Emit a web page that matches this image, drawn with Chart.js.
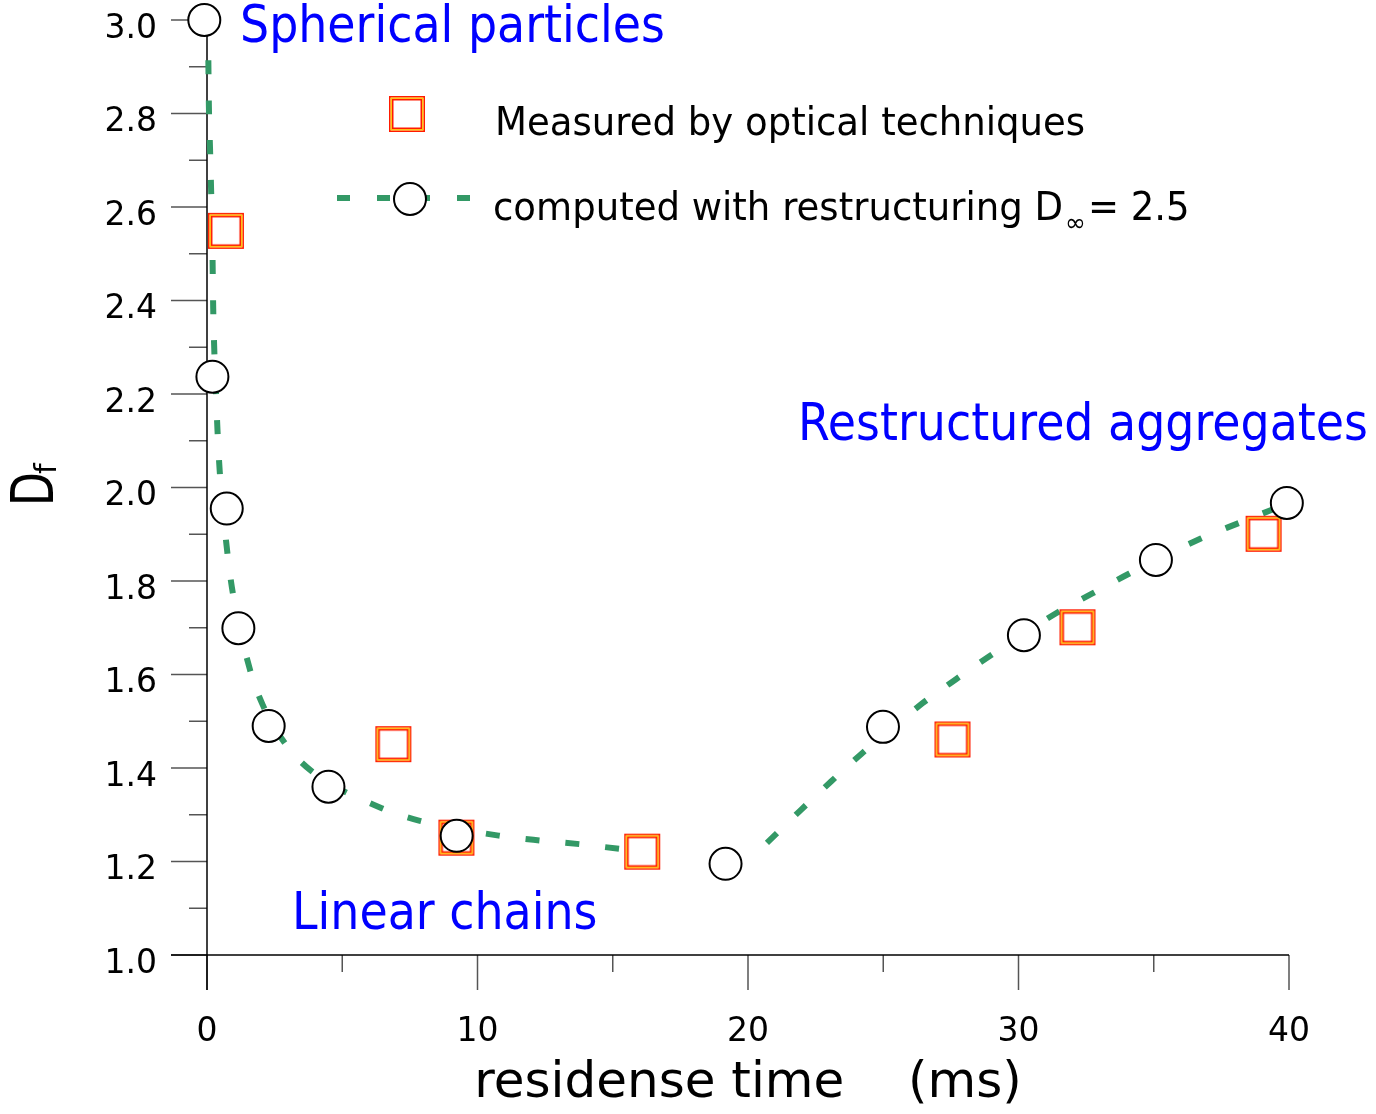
<!DOCTYPE html>
<html>
<head>
<meta charset="utf-8">
<script src="https://cdn.jsdelivr.net/npm/chart.js@4.4.0/dist/chart.umd.min.js"></script>
<style>
  html, body { margin: 0; padding: 0; background: #fff; }
  #wrap { width: 1376px; height: 1114px; }
</style>
</head>
<body>
<div id="wrap"><canvas id="chart" width="1376" height="1114"></canvas></div>
<script>
// measured by optical techniques (squares)
var measuredTime = [0.70, 6.89, 9.22, 16.09, 27.56, 32.18, 39.06]
var measuredDf = [2.549, 1.451, 1.251, 1.221, 1.461, 1.701, 1.901]

// computed with restructuring (circles)
var computedTime = [-0.1, 0.2, 0.73, 1.16, 2.28, 4.49, 9.23, 19.17, 24.99, 30.2, 35.08, 39.92]
var computedDf = [3.0, 2.237, 1.955, 1.699, 1.49, 1.36, 1.255, 1.195, 1.488, 1.684, 1.845, 1.967]

// dashed curve, null = break in the curve
var curveTime = [0.05, 0.07, 0.11, 0.15, 0.2, 0.23, 0.27, 0.33, 0.39, 0.47, 0.75, 0.95, 1.59, 2.06, 2.88, 3.81, 6.46, 7.87, 10.83, 12.31, 13.79, 15.27, 16.75, 17.0,
                 18.9,
                 20.7, 21.95, 23.07, 24.19, 26.44, 27.69, 28.95, 31.39, 32.75, 34.10, 36.74, 38.19, 39.9]
var curveDf = [2.914, 2.815, 2.729, 2.641, 2.51, 2.382, 2.293, 2.204, 2.12, 2.035, 1.862, 1.776, 1.61, 1.535, 1.453, 1.396, 1.314, 1.287, 1.255, 1.245, 1.237, 1.227, 1.218, 1.216,
               null,
               1.24, 1.31, 1.371, 1.43, 1.538, 1.59, 1.64, 1.731, 1.774, 1.816, 1.891, 1.925, 1.965]

var labels = ['Measured by optical techniques', 'computed with restructuring D']

var FONT = '"DejaVu Sans"'
Chart.defaults.font.family = FONT
Chart.defaults.color = '#000'

function pts(xs, ys) {
  return xs.map(function(x, i) { return {x: x, y: ys[i]} })
}

// square marker: red / yellow / red frame
function makeSquare() {
  var c = document.createElement('canvas')
  c.width = 40; c.height = 40
  var g = c.getContext('2d')
  g.fillStyle = '#fff'
  g.fillRect(2, 2, 36, 36)
  g.lineWidth = 1.6; g.strokeStyle = '#ff1a00'
  g.strokeRect(2.8, 2.8, 34.4, 34.4)
  g.lineWidth = 1.3; g.strokeStyle = '#ffd200'
  g.strokeRect(4.25, 4.25, 31.5, 31.5)
  g.lineWidth = 1.6; g.strokeStyle = '#ff1a00'
  g.strokeRect(5.7, 5.7, 28.6, 28.6)
  return c
}
var squareImg = makeSquare()

function drawText(ctx, str, x, y, size, color, sx) {
  sx = sx || 1
  ctx.save()
  ctx.font = size + 'px ' + FONT
  ctx.fillStyle = color
  ctx.textBaseline = 'alphabetic'
  ctx.textAlign = 'left'
  ctx.translate(x, y)
  ctx.scale(sx, 1)
  ctx.fillText(str, 0, 0)
  var w = ctx.measureText(str).width * sx
  ctx.restore()
  return w
}

function seg(ctx, x1, y1, x2, y2) {
  ctx.beginPath(); ctx.moveTo(x1, y1); ctx.lineTo(x2, y2); ctx.stroke()
}

var axesPlugin = {
  id: 'axes',
  beforeDatasetsDraw: function(chart) {
    var ctx = chart.ctx, xs = chart.scales.x, ys = chart.scales.y
    var x0 = xs.getPixelForValue(0), y0 = ys.getPixelForValue(1)
    var xEnd = xs.getPixelForValue(40), yTop = ys.getPixelForValue(3)
    ctx.save()
    ctx.lineWidth = 1.5
    ctx.strokeStyle = '#555'
    ys.ticks.forEach(function(t) {
      var y = ys.getPixelForValue(t.value)
      seg(ctx, x0 - (t.label !== '' ? 36 : 18), y, x0, y)
    })
    xs.ticks.forEach(function(t) {
      var x = xs.getPixelForValue(t.value)
      seg(ctx, x, y0, x, y0 + (t.label !== '' ? 35 : 17))
    })
    ctx.strokeStyle = '#000'
    seg(ctx, x0, yTop, x0, y0 + 35)
    seg(ctx, x0 - 36, y0, xEnd, y0)
    ctx.restore()
  },
  afterDatasetsDraw: function(chart) {
    var ctx = chart.ctx
    // region labels
    drawText(ctx, 'Spherical particles', 240, 42, 51, '#0000ff', 0.9)
    drawText(ctx, 'Restructured aggregates', 798, 440, 51, '#0000ff', 0.9)
    drawText(ctx, 'Linear chains', 292, 929, 51, '#0000ff', 0.9)

    // legend
    ctx.drawImage(squareImg, 407 - 20, 114 - 20)
    ctx.save()
    ctx.strokeStyle = '#339966'
    ctx.lineWidth = 6
    ctx.setLineDash([13, 27])
    seg(ctx, 337, 198, 472, 198)
    ctx.setLineDash([])
    ctx.beginPath()
    ctx.arc(410, 199, 16, 0, Math.PI * 2)
    ctx.fillStyle = '#fff'; ctx.fill()
    ctx.lineWidth = 2; ctx.strokeStyle = '#000'; ctx.stroke()
    ctx.restore()
    drawText(ctx, labels[0], 495, 135, 39, '#000', 0.95)
    var w = drawText(ctx, labels[1], 493, 220, 39, '#000', 0.95)
    var w2 = drawText(ctx, '\u221e', 493 + w + 2, 231, 25, '#000')
    drawText(ctx, '= 2.5', 493 + w + w2 + 4, 220, 39, '#000', 0.95)

    // y axis title D_f
    ctx.save()
    ctx.translate(53, 506)
    ctx.rotate(-Math.PI / 2)
    var wd = drawText(ctx, 'D', 0, 0, 58, '#000', 0.76)
    drawText(ctx, 'f', wd - 2, 3, 30, '#000')
    ctx.restore()
  }
}

var ctx = document.getElementById('chart').getContext('2d')

var myChart = new Chart(ctx, {
  type: 'scatter',
  data: {
    datasets: [
      {
        label: labels[1],
        data: pts(computedTime, computedDf),
        pointStyle: 'circle',
        pointRadius: 16,
        pointBorderWidth: 2,
        pointBorderColor: '#000',
        pointBackgroundColor: '#fff',
        clip: false,
        order: 0
      },
      {
        label: labels[0],
        data: pts(measuredTime, measuredDf),
        pointStyle: squareImg,
        pointRadius: 18,
        clip: false,
        order: 1
      },
      {
        label: 'curve',
        data: pts(curveTime, curveDf),
        showLine: true,
        borderColor: '#339966',
        borderWidth: 6,
        borderDash: [14, 26],
        borderCapStyle: 'butt',
        pointRadius: 0,
        cubicInterpolationMode: 'monotone',
        spanGaps: false,
        clip: false,
        order: 2
      }
    ]
  },
  options: {
    responsive: false,
    animation: false,
    layout: { padding: { top: 20, right: 87, left: 0, bottom: 0 } },
    plugins: {
      legend: { display: false },
      tooltip: { enabled: false }
    },
    scales: {
      x: {
        type: 'linear',
        min: 0, max: 40,
        grid: { display: false, drawTicks: false },
        border: { display: false },
        ticks: {
          stepSize: 5,
          autoSkip: false,
          maxRotation: 0,
          padding: 58,
          font: { size: 33 },
          callback: function(v) { return v % 10 === 0 ? String(v) : '' }
        },
        title: {
          display: true,
          text: 'residense time    (ms)',
          font: { size: 50 },
          padding: { top: 0, bottom: 0 }
        },
        afterFit: function(s) {
          s.height = 159
          s.paddingLeft = 0
          s.paddingRight = 0
        }
      },
      y: {
        min: 1, max: 3,
        grid: { display: false, drawTicks: false },
        border: { display: false },
        ticks: {
          stepSize: 0.1,
          autoSkip: false,
          padding: 50,
          labelOffset: 9,
          font: { size: 33 },
          callback: function(v) {
            return Math.round(v * 10) % 2 === 0 ? v.toFixed(1) : ''
          }
        },
        afterFit: function(s) {
          s.width = 207
          s.paddingTop = 0
          s.paddingBottom = 0
        }
      }
    }
  },
  plugins: [axesPlugin]
})
</script>
</body>
</html>
